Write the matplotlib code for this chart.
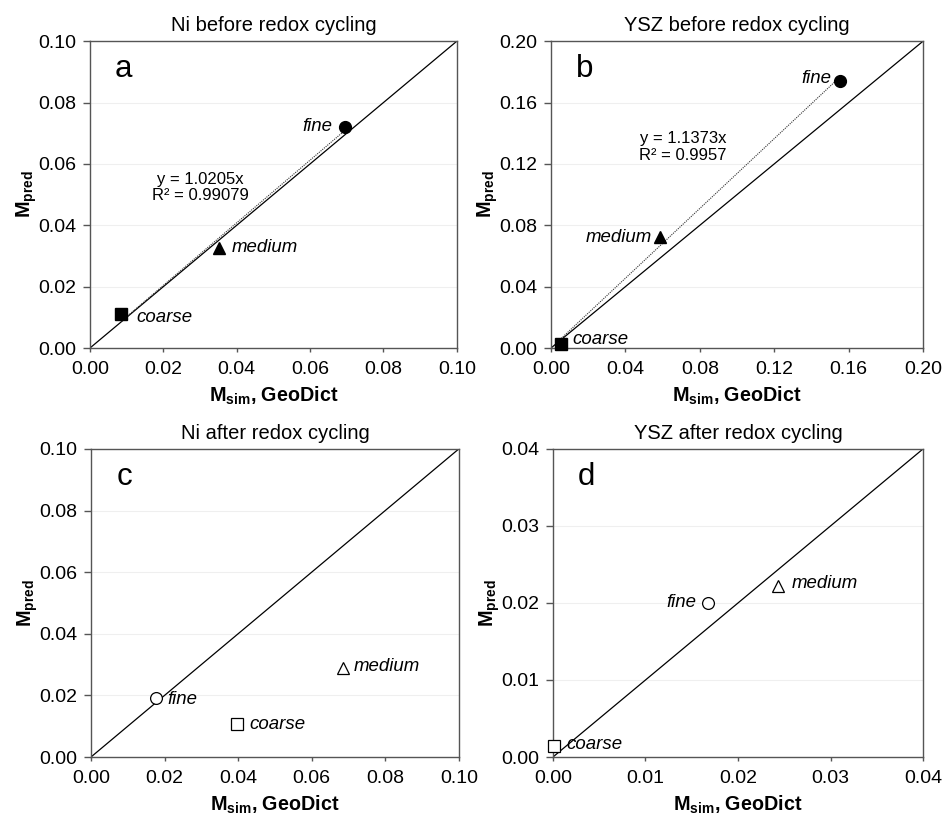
import matplotlib
matplotlib.use("Agg")
import matplotlib.pyplot as plt
import numpy as np

plt.rcParams['font.family'] = ['Liberation Sans', 'DejaVu Sans']
plt.rcParams['mathtext.fontset'] = 'custom'
plt.rcParams['mathtext.rm'] = 'Liberation Sans'
plt.rcParams['mathtext.it'] = 'Liberation Sans:italic'
plt.rcParams['mathtext.bf'] = 'Liberation Sans:bold'

# point labels, in the same order as every series below
labels = ['fine', 'medium', 'coarse']

ni_before_sim = [0.0695, 0.0352, 0.0085]
ni_before_pred = [0.0722, 0.0327, 0.0112]
ni_before_slope = 1.0205
ni_before_r2 = '0.99079'

ysz_before_sim = [0.1553, 0.0585, 0.0055]
ysz_before_pred = [0.1740, 0.0722, 0.0027]
ysz_before_slope = 1.1373
ysz_before_r2 = '0.9957'

ni_after_sim = [0.0177, 0.0684, 0.0396]
ni_after_pred = [0.0193, 0.0290, 0.0106]

ysz_after_sim = [0.0168, 0.0243, 0.0001]
ysz_after_pred = [0.0200, 0.0222, 0.0014]

markers = ['o', '^', 's']

panels = [
    dict(title='Ni before redox cycling', letter='a', lim=0.10, ticks=np.arange(0, 0.101, 0.02), fmt='%.2f',
         x=ni_before_sim, y=ni_before_pred, filled=True, slope=ni_before_slope, r2=ni_before_r2,
         eq_xy=(0.030, 0.0524),
         offsets=[(-9, 0, 'right'), (9, 0, 'left'), (11, -3, 'left')],
         rect=[0.0954, 0.5735, 0.389, 0.376]),
    dict(title='YSZ before redox cycling', letter='b', lim=0.20, ticks=np.arange(0, 0.201, 0.04), fmt='%.2f',
         x=ysz_before_sim, y=ysz_before_pred, filled=True, slope=ysz_before_slope, r2=ysz_before_r2,
         eq_xy=(0.071, 0.131),
         offsets=[(-6, 2, 'right'), (-6, 0, 'right'), (8, 3, 'left')],
         rect=[0.5843, 0.5735, 0.3945, 0.376]),
    dict(title='Ni after redox cycling', letter='c', lim=0.10, ticks=np.arange(0, 0.101, 0.02), fmt='%.2f',
         x=ni_after_sim, y=ni_after_pred, filled=False, slope=None,
         offsets=[(8, -1.5, 'left'), (8, 0.5, 'left'), (9, 0, 'left')],
         rect=[0.0965, 0.0723, 0.390, 0.3775]),
    dict(title='YSZ after redox cycling', letter='d', lim=0.04, ticks=np.arange(0, 0.041, 0.01), fmt='%.2f',
         x=ysz_after_sim, y=ysz_after_pred, filled=False, slope=None,
         offsets=[(-9, 0, 'right'), (10, 1.5, 'left'), (9, 1.5, 'left')],
         rect=[0.5864, 0.0723, 0.3924, 0.3775]),
]

fig = plt.figure(figsize=(9.43, 8.16), dpi=100)

for p in panels:
    ax = fig.add_axes(p['rect'])
    lim = p['lim']

    # faint horizontal gridlines at each y tick
    for t in p['ticks'][1:-1]:
        ax.axhline(t, color='#efefef', lw=0.8, zorder=0)

    # 1:1 line
    ax.plot([0, lim], [0, lim], color='black', lw=0.9, zorder=2)

    # linear fit through the origin
    if p['slope'] is not None:
        xs = np.array([min(p['x']), max(p['x'])])
        ax.plot(xs, p['slope'] * xs, color='#333333', lw=0.8, linestyle=(0, (1, 1)), zorder=2)
        ax.text(p['eq_xy'][0], p['eq_xy'][1], 'y = %.4fx\nR² = %s' % (p['slope'], p['r2']),
                ha='center', va='center', fontsize=12, linespacing=1.1)

    for xi, yi, m, lab, off in zip(p['x'], p['y'], markers, labels, p['offsets']):
        if p['filled']:
            ax.plot(xi, yi, marker=m, ms=8.5, color='black', linestyle='none', zorder=3, clip_on=False)
        else:
            ax.plot(xi, yi, marker=m, ms=8.5, mfc='white', mec='black', mew=0.9,
                    linestyle='none', zorder=3, clip_on=False)
        ax.annotate(lab, (xi, yi), xytext=(off[0], off[1]), textcoords='offset points',
                    ha=off[2], va='center', fontsize=13.4, style='italic')

    ax.text(0.09, 0.91, p['letter'], transform=ax.transAxes, fontsize=22.5, ha='center', va='center')

    ax.set_xlim(0, lim)
    ax.set_ylim(0, lim)
    ax.set_xticks(p['ticks'])
    ax.set_yticks(p['ticks'])
    ax.set_xticklabels([p['fmt'] % t for t in p['ticks']])
    ax.set_yticklabels([p['fmt'] % t for t in p['ticks']])
    ax.tick_params(axis='both', direction='out', labelsize=14, width=1, color='#555555')
    ax.tick_params(axis='y', length=5, pad=5)
    ax.tick_params(axis='x', length=3, pad=6)
    for s in ax.spines.values():
        s.set_color('#555555')
        s.set_linewidth(1)

    ax.set_title(p['title'], fontsize=14.5, pad=7)
    ax.set_xlabel(r'$\mathbf{M}_{\mathbf{sim}}$, GeoDict', fontsize=14.2, fontweight='bold', labelpad=5)
    ax.set_ylabel(r'$\mathbf{M}_{\mathbf{pred}}$', fontsize=14.2, fontweight='bold', labelpad=-1)

plt.savefig("out.png", dpi=100)
